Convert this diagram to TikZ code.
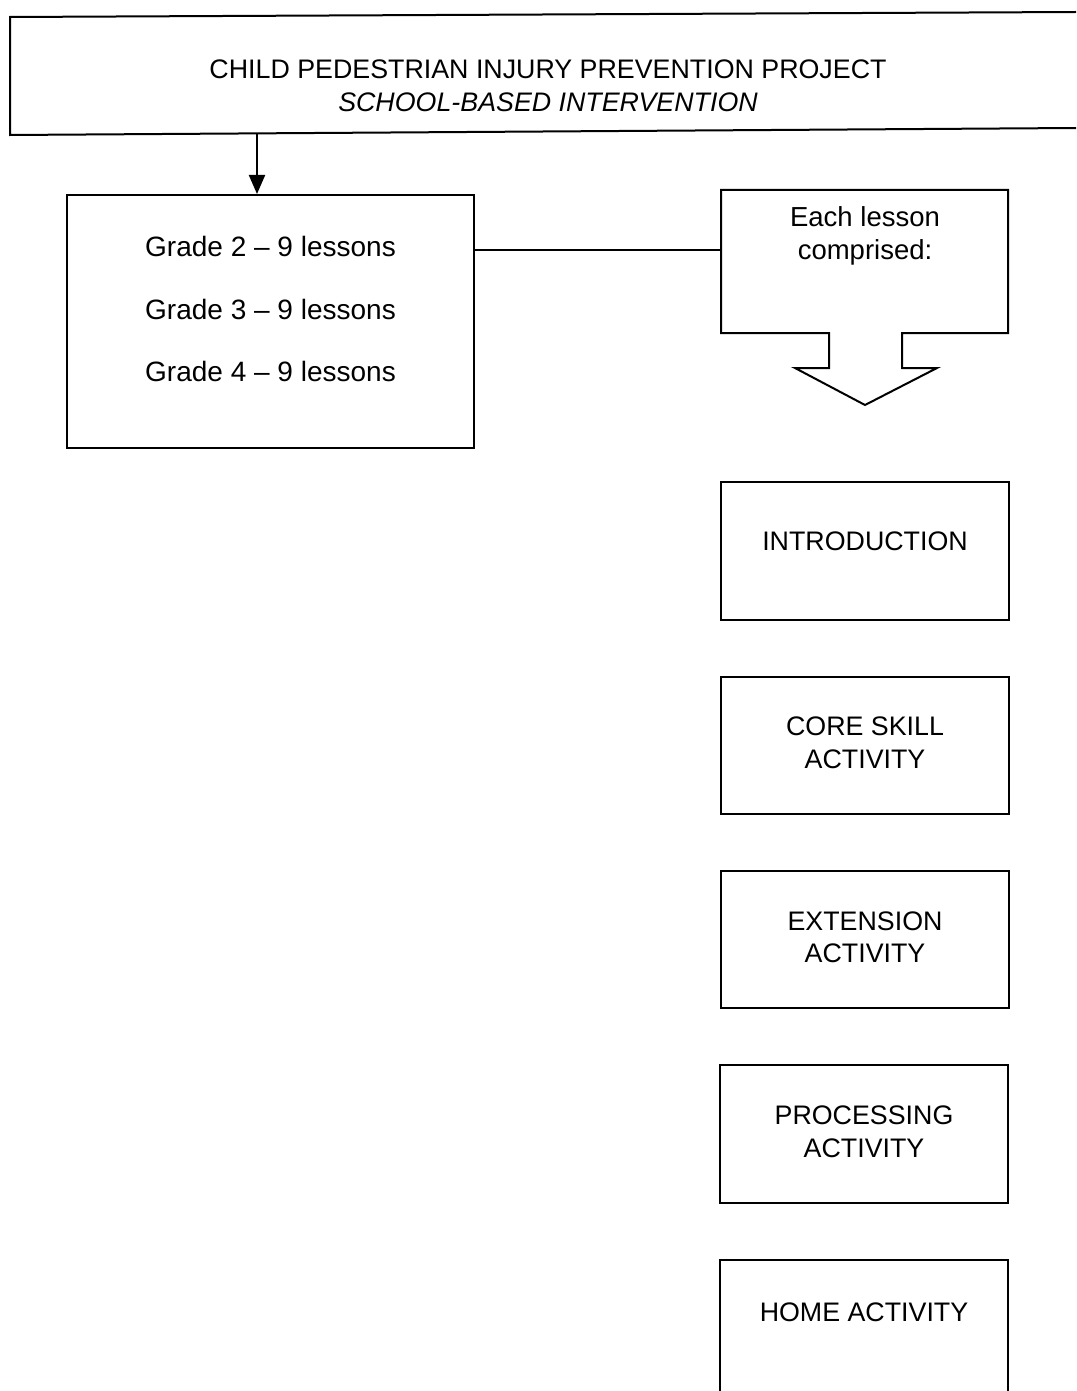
\documentclass[tikz,border=0pt]{standalone}
\usepackage{fontspec}
\setmainfont{Liberation Sans}
\usetikzlibrary{arrows.meta}
\tikzset{
  line/.style={line width=2pt, line join=miter},
  box/.style={draw, line width=2pt, inner sep=0pt},
  txt/.style={align=center, inner sep=0pt, font=\fontsize{26.8}{32.5}\selectfont},
}
\begin{document}
\begin{tikzpicture}[x=1pt,y=-1pt]
\useasboundingbox (0,0) rectangle (1076,1391);
% top box (open at right)
\draw[line] (1076,12) -- (10,17) -- (10,135) -- (1076,128);
\node[txt] (title) at (548,86) {CHILD PEDESTRIAN INJURY PREVENTION PROJECT\\\textit{SCHOOL-BASED INTERVENTION}};
\coordinate (topb) at (257,134);
% grades box
\node[box, minimum width=407pt, minimum height=253pt] (grades) at (270.5,321.5) {};
\node[txt, font=\fontsize{28}{62.5}\selectfont] (gradetext) at (270.5,309) {Grade 2 -- 9 lessons\\Grade 3 -- 9 lessons\\Grade 4 -- 9 lessons};
\draw[line, -{Triangle[length=19pt,width=16pt]}] (topb) -- (topb |- grades.north);
% callout
\draw[line] (721,190) -- (1008,190) -- (1008,333) -- (902,333) -- (902,368) -- (937,368) -- (865,405) -- (795,368) -- (829,368) -- (829,333) -- (721,333) -- cycle;
\coordinate (eachL) at (721,250);
\node[txt, font=\fontsize{27.5}{33}\selectfont] (each) at (865,235.5) {Each lesson\\comprised:};
\draw[line] (eachL -| grades.east) -- (eachL);
% right boxes
\node[box, minimum width=288pt, minimum height=138pt] (intro) at (865,551) {};
\node[txt] (introtext) at (865,541) {INTRODUCTION};
\node[box, minimum width=288pt, minimum height=137pt] (core) at (865,745.5) {};
\node[txt] (coretext) at (865,743) {CORE SKILL\\ACTIVITY};
\node[box, minimum width=288pt, minimum height=137pt] (ext) at (865,939.5) {};
\node[txt] (exttext) at (865,937.5) {EXTENSION\\ACTIVITY};
\node[box, minimum width=288pt, minimum height=138pt] (proc) at (864,1134) {};
\node[txt] (proctext) at (864,1132) {PROCESSING\\ACTIVITY};
% home box (open at bottom)
\draw[line] (720,1391) -- (720,1260) -- (1008,1260) -- (1008,1391);
\node[txt] (hometext) at (864,1312) {HOME ACTIVITY};
\end{tikzpicture}
\end{document}
